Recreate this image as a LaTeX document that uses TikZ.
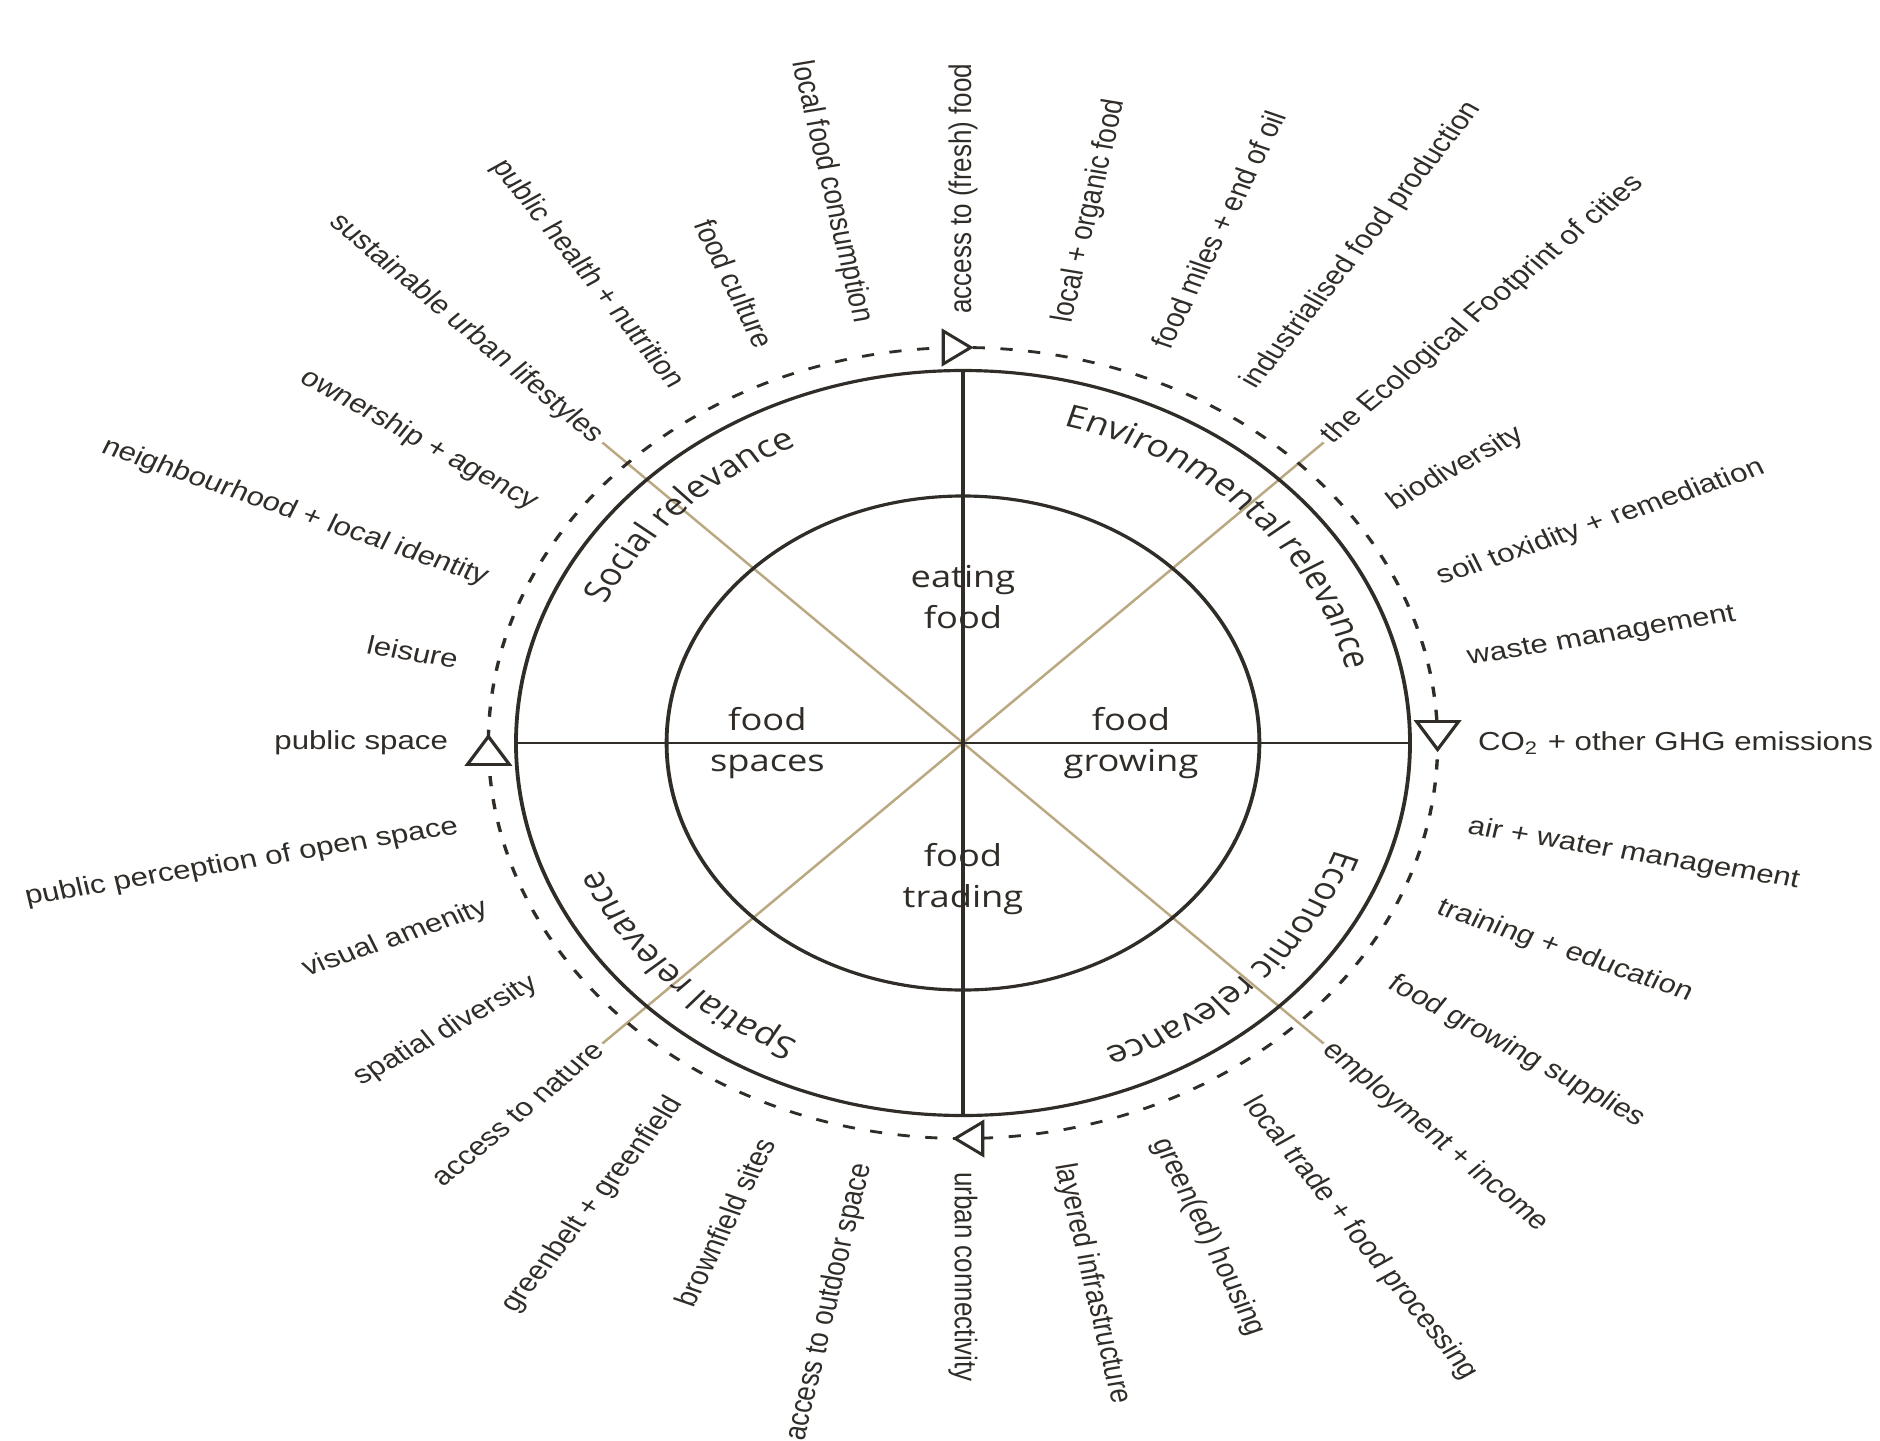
\documentclass[tikz,border=0pt]{standalone}
\usepackage{fontspec}
\setmainfont{Liberation Sans}
\newfontfamily\opensans{Open Sans}
\usetikzlibrary{calc, decorations.text}

\definecolor{inkbrown}{RGB}{48,44,40}
\definecolor{spoketan}{RGB}{186,168,130}
\newcommand\relfont{\color{inkbrown}\opensans\fontsize{8.8}{10.5}\selectfont}

\tikzset{
  ring/.style={circle, draw=inkbrown, line width=0.9pt, inner sep=0pt, outer sep=0pt},
  trailring/.style={ring, line width=0.8pt, dash pattern=on 2.9pt off 3.7pt},
  crossline/.style={draw=inkbrown, line width=0.8pt},
  spoke/.style={draw=spoketan, line width=0.65pt},
  flowmark/.style={draw=inkbrown, line width=0.8pt, fill=white, line join=miter},
  topic/.style={text=inkbrown, font=\fontsize{7.4}{9}\selectfont, inner sep=1pt},
  hubtext/.style={text=inkbrown, font=\opensans\fontsize{8.6}{11.7}\selectfont, align=center}
}

\begin{document}
\begin{tikzpicture}
  \useasboundingbox (-9.63,-6.97) rectangle (9.17,7.43);
  \begin{scope}[transform canvas={xscale=1.2}]
  \coordinate (hub) at (0,0);

  % topics round the wheel, counter-clockwise from the east
  \foreach \txt [count=\k from 0] in {CO\textsubscript{2} + other GHG emissions, waste management, soil toxidity + remediation, biodiversity, the Ecological Footprint of cities, industrialised food production, food miles + end of oil, local + organic food, access to (fresh) food, local food consumption, food culture, public health + nutrition, sustainable urban lifestyles, ownership + agency, neighbourhood + local identity, leisure, public space, public perception of open space, visual amenity, spatial diversity, access to nature, greenbelt + greenfield, brownfield sites, access to outdoor space, urban connectivity, layered infrastructure, green(ed) housing, local trade + food processing, employment + income, food growing supplies, training + education, air + water management}{
    \pgfmathsetmacro\ang{\k*11.25}
    \let\rot\ang
    \def\side{west}
    \ifnum\k>8 \ifnum\k<24 \def\side{east}\pgfmathsetmacro\rot{\ang+180}\fi\fi
    \node[topic, rotate=\rot, anchor=\side] (lab\k) at (\ang:4.25) {\txt};
  }

  \draw[spoke] (lab4.west) -- (lab20.east);
  \draw[spoke] (lab12.east) -- (lab28.west);

  % the wheel
  \node[trailring, minimum size=7.91cm] (trail) at (hub) {};
  \node[ring, minimum size=7.45cm] (rim) at (hub) {};
  \node[ring, minimum size=4.94cm] (core) at (hub) {};
  \draw[crossline] (rim.north) -- (rim.south);
  \draw[crossline] (rim.west) -- (rim.east);

  \foreach \side/\turn/\len/\half in {north/0/0.23/0.165, east/-90/0.28/0.175, south/180/0.23/0.165, west/90/0.28/0.175}
    \draw[flowmark, shift={(trail.\side)}, rotate=\turn] (0.065,0) -- (0.065-\len,\half) -- (0.065-\len,-\half) -- cycle;

  \node[hubtext] (eat) at (0,1.46) {eating\\food};
  \node[hubtext] (spaces) at (-1.63,0) {food\\spaces};
  \node[hubtext] (grow) at (1.4,0) {food\\growing};
  \node[hubtext] (trade) at (0,-1.36) {food\\trading};

  \path[decorate, decoration={text along path, text align=center, text={|\relfont|Social relevance}}]
    (175:3.28) arc[start angle=175, end angle=95, radius=3.28];
  \path[decorate, decoration={text along path, text align=center, text={|\relfont|Environmental relevance}}]
    (84:3.28) arc[start angle=84, end angle=4, radius=3.28];
  \path[decorate, decoration={text along path, text align=center, text={|\relfont|Economic relevance}}]
    (-4:3.28) arc[start angle=-4, end angle=-84, radius=3.28];
  \path[decorate, decoration={text along path, text align=center, text={|\relfont|Spatial relevance}}]
    (-96:3.28) arc[start angle=-96, end angle=-176, radius=3.28];
  \end{scope}
\end{tikzpicture}
\end{document}
